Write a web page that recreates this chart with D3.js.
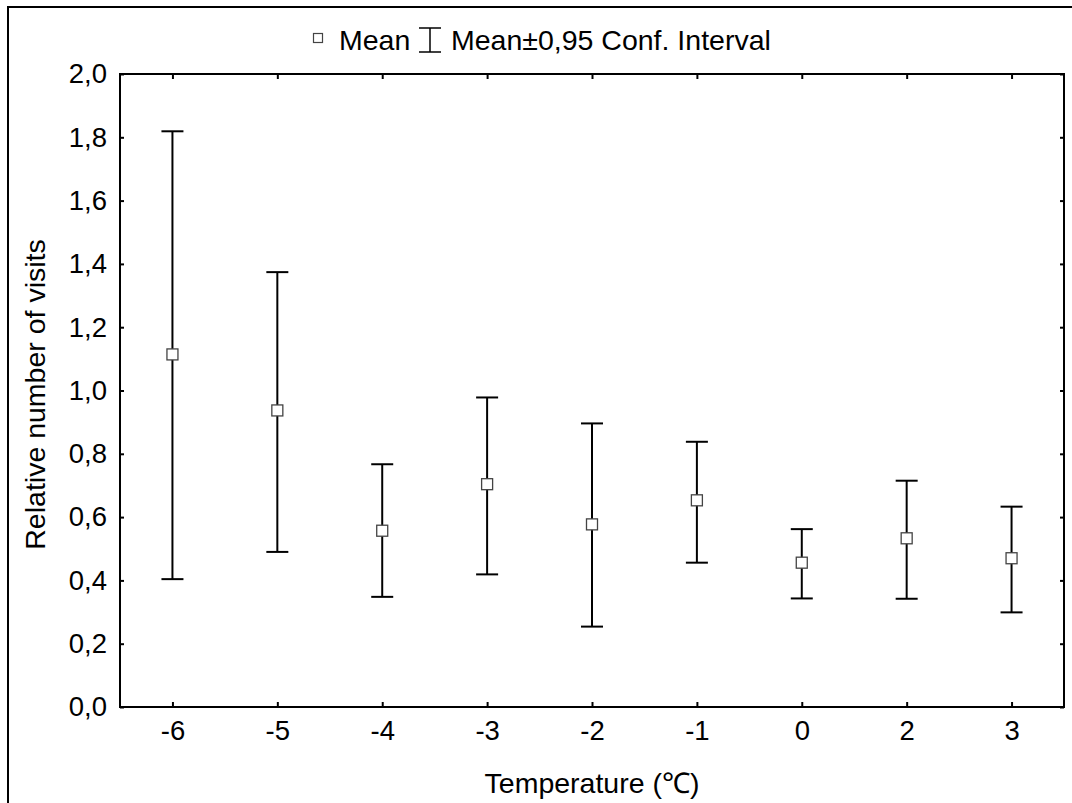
<!DOCTYPE html>
<html><head><meta charset="utf-8">
<script src="https://cdn.jsdelivr.net/npm/d3@7"></script>
<style>
html,body{margin:0;padding:0;background:#fff;}
svg{display:block;font-family:"Liberation Sans",Arial,sans-serif;}
</style></head>
<body><svg id="c" width="1072" height="803"></svg>
<script>
const categories = ["-6","-5","-4","-3","-2","-1","0","2","3"];
const means = [1.114,0.937,0.557,0.704,0.577,0.653,0.456,0.533,0.470];
const upper = [1.819,1.374,0.767,0.978,0.896,0.838,0.562,0.715,0.633];
const lower = [0.404,0.490,0.348,0.419,0.254,0.456,0.343,0.342,0.299];
const yTicks = [0,0.2,0.4,0.6,0.8,1.0,1.2,1.4,1.6,1.8,2.0];

const svg = d3.select("#c");
const L = 120, R = 1064, T = 74, B = 707;
const x = d3.scalePoint().domain(categories).range([L, R]).padding(0.5);
const y = d3.scaleLinear().domain([0, 2]).range([B, T]);
const fmt = v => d3.format(".1f")(v).replace(".", ",");

// outer frame
svg.append("rect").attr("x",8).attr("y",7).attr("width",1100).attr("height",850)
  .attr("fill","none").attr("stroke","#000").attr("stroke-width",2);

// axes
const gL = svg.append("g").attr("transform",`translate(${L},0)`)
  .call(d3.axisLeft(y).tickValues(yTicks).tickFormat(fmt).tickSizeInner(-4).tickSizeOuter(0).tickPadding(13));
const gRt = svg.append("g").attr("transform",`translate(${R},0)`)
  .call(d3.axisRight(y).tickValues(yTicks).tickFormat("").tickSizeInner(-4).tickSizeOuter(0));
const gB = svg.append("g").attr("transform",`translate(0,${B})`)
  .call(d3.axisBottom(x).tickSizeInner(-5).tickSizeOuter(0).tickPadding(14));
const gT = svg.append("g").attr("transform",`translate(0,${T})`)
  .call(d3.axisTop(x).tickFormat("").tickSizeInner(-5).tickSizeOuter(0));
[gL,gRt,gB,gT].forEach(g=>{
  g.select(".domain").remove();
  g.selectAll(".tick line").attr("stroke","#000").attr("stroke-width",2);
  g.selectAll("text").attr("fill","#000").style("font-size","27.5px").style("font-family","'Liberation Sans',Arial,sans-serif");
});
gB.selectAll("text").attr("dy","0.68em");
svg.append("rect").attr("x",L).attr("y",T).attr("width",R-L).attr("height",B-T)
  .attr("fill","none").attr("stroke","#000").attr("stroke-width",2);

// error bars
const data = categories.map((c,i)=>({c, m:means[i], u:upper[i], l:lower[i]}));
const cap = 11;
const eb = svg.append("g").attr("stroke","#000").attr("stroke-width",2);
data.forEach(d=>{
  const cx = x(d.c);
  eb.append("line").attr("x1",cx).attr("x2",cx).attr("y1",y(d.u)).attr("y2",y(d.l));
  eb.append("line").attr("x1",cx-cap).attr("x2",cx+cap).attr("y1",y(d.u)).attr("y2",y(d.u));
  eb.append("line").attr("x1",cx-cap).attr("x2",cx+cap).attr("y1",y(d.l)).attr("y2",y(d.l));
});
svg.append("g").selectAll("rect").data(data).join("rect")
  .attr("x",d=>x(d.c)-5.5).attr("y",d=>y(d.m)-5.5).attr("width",11).attr("height",11)
  .attr("fill","#fff").attr("stroke","#444").attr("stroke-width",1.3);

// legend
const lg = svg.append("g");
lg.append("rect").attr("x",313.5).attr("y",33.5).attr("width",9).attr("height",9)
  .attr("fill","#fff").attr("stroke","#444").attr("stroke-width",1.2);
lg.append("text").attr("x",339).attr("y",50).style("font-size","28.5px").text("Mean");
lg.append("line").attr("x1",430).attr("x2",430).attr("y1",28).attr("y2",52).attr("stroke","#000").attr("stroke-width",1.5);
lg.append("line").attr("x1",419).attr("x2",441).attr("y1",28).attr("y2",28).attr("stroke","#000").attr("stroke-width",1.5);
lg.append("line").attr("x1",419).attr("x2",441).attr("y1",52).attr("y2",52).attr("stroke","#000").attr("stroke-width",1.5);
lg.append("text").attr("x",451).attr("y",50).style("font-size","28.5px").text("Mean±0,95 Conf. Interval");

// axis titles
svg.append("text").attr("x",(L+R)/2).attr("y",793).attr("text-anchor","middle")
  .style("font-size","28.5px").text("Temperature (℃)");
svg.append("text").attr("transform",`translate(45,${(T+B)/2+4}) rotate(-90)`).attr("text-anchor","middle")
  .style("font-size","28.5px").text("Relative number of visits");
</script></body></html>
